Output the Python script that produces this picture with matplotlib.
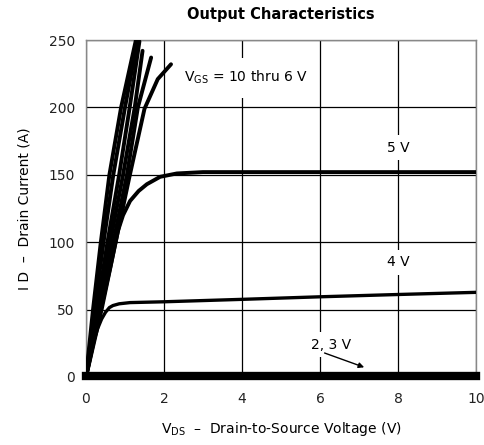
import matplotlib
matplotlib.use("Agg")
import matplotlib.pyplot as plt

plt.rcParams['font.family'] = ['DejaVu Sans']

# VGS = 10 thru 6 V family (steep curves)
vgs_hi_x = [
    [0, 0.18, 0.38, 0.60, 0.90, 1.28],
    [0, 0.22, 0.45, 0.70, 1.00, 1.32],
    [0, 0.28, 0.55, 0.85, 1.12, 1.37],
    [0, 0.32, 0.62, 0.95, 1.25, 1.45],
    [0, 0.36, 0.70, 1.05, 1.33, 1.67],
    [0, 0.40, 0.76, 1.11, 1.50, 1.84, 2.18],
]
vgs_hi_y = [
    [0, 50, 100, 150, 200, 250],
    [0, 50, 100, 150, 200, 250],
    [0, 50, 100, 150, 200, 249],
    [0, 50, 100, 150, 200, 242],
    [0, 50, 100, 150, 200, 237],
    [0, 50, 100, 148, 199, 221, 232],
]
# VGS = 5 V
v5_x = [0, 0.3, 0.62, 0.82, 0.95, 1.13, 1.35, 1.56, 1.9, 2.33, 3, 6, 10]
v5_y = [0, 40, 81, 108.5, 120, 130.6, 138, 143, 148.5, 151, 152, 152, 152]
# VGS = 4 V
v4_x = [0, 0.15, 0.3, 0.4, 0.5, 0.6, 0.69, 0.85, 1.13, 2, 4, 6, 8, 10]
v4_y = [0, 22, 36, 43, 48, 51.5, 53, 54.3, 55.2, 55.8, 57.6, 59.5, 61.2, 62.8]
# VGS = 2, 3 V
v23_x = [0, 10]
v23_y = [0.8, 0.8]

x_ticks = [0, 2, 4, 6, 8, 10]
y_ticks = [0, 50, 100, 150, 200, 250]

fig = plt.figure(figsize=(4.84, 4.45), dpi=100)
ax = fig.add_axes([86/484, 68/445, 390/484, 337/445])
ax.set_xlim(0, 10)
ax.set_ylim(0, 250)
ax.set_xticks(x_ticks)
ax.set_yticks(y_ticks)
ax.set_xticklabels([str(t) for t in x_ticks])
ax.set_yticklabels([str(t) for t in y_ticks])
ax.tick_params(length=0, labelsize=10, colors='#222222', pad=11)
ax.tick_params(axis='y', pad=8)
ax.grid(True, color='black', linewidth=0.9)
ax.set_axisbelow(True)
for s in ax.spines.values():
    s.set_color('#888888')
    s.set_linewidth(1.0)

for xs, ys in zip(vgs_hi_x, vgs_hi_y):
    ax.plot(xs, ys, color='black', lw=2.8, solid_capstyle='round',
            solid_joinstyle='round', zorder=3)
ax.plot(v5_x, v5_y, color='black', lw=2.8, solid_joinstyle='round', zorder=3)
ax.plot(v4_x, v4_y, color='black', lw=2.4, solid_joinstyle='round', zorder=3)
ax.plot(v23_x, v23_y, color='black', lw=6, zorder=3, clip_on=False)

bb = dict(facecolor='white', edgecolor='none', pad=4)
ax.text(2.5, 222, r'V$_{\mathregular{GS}}$ = 10 thru 6 V', fontsize=10,
        va='center', ha='left', bbox=dict(facecolor='white', edgecolor='none', pad=8), zorder=2.5)
ax.text(8.0, 170, '5 V', fontsize=10, ha='center', va='center', bbox=bb, zorder=2.5)
ax.text(8.0, 85, '4 V', fontsize=10, ha='center', va='center', bbox=bb, zorder=2.5)
ax.text(6.28, 24, '2, 3 V', fontsize=10, ha='center', va='center', bbox=bb, zorder=2.5)
ax.annotate('', xy=(7.2, 6.5), xytext=(6.05, 18.5),
            arrowprops=dict(arrowstyle='-|>', color='black', lw=1.0, mutation_scale=8), zorder=4)

fig.text(281/484, 1 - 15/445, 'Output Characteristics', ha='center', va='center',
         fontsize=10.5, fontweight='bold')
ax.set_xlabel(r'V$_{\mathregular{DS}}$  –  Drain-to-Source Voltage (V)', fontsize=10, labelpad=10)
ax.set_ylabel('I D  –  Drain Current (A)', fontsize=10, labelpad=12)

fig.savefig('out.png', dpi=100)
